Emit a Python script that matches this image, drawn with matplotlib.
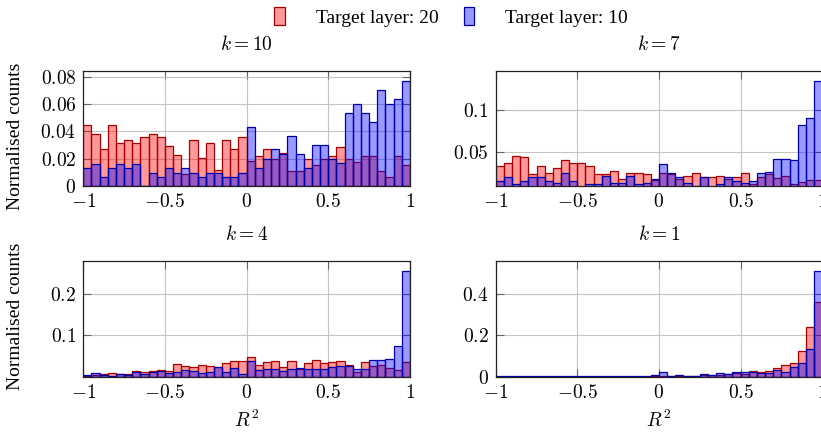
import numpy as np
import matplotlib
matplotlib.use("Agg")
import matplotlib.pyplot as plt
from matplotlib.patches import Patch

# -----------------------------
# Data (normalised counts, 40 bins on [-1, 1])
# -----------------------------

bin_edges = np.linspace(-1, 1, 41)

red_k10 = [0.0447, 0.0378, 0.0269, 0.0447, 0.0312, 0.0334, 0.0312, 0.0356, 0.0378, 0.0356,
           0.0290, 0.0224, 0.0090, 0.0334, 0.0203, 0.0312, 0.0115, 0.0334, 0.0269, 0.0356,
           0.0180, 0.0222, 0.0269, 0.0200, 0.0244, 0.0107, 0.0107, 0.0200, 0.0154, 0.0200,
           0.0222, 0.0288, 0.0200, 0.0178, 0.0222, 0.0222, 0.0110, 0.0063, 0.0222, 0.0154]
blue_k10 = [0.0129, 0.0164, 0.0063, 0.0129, 0.0164, 0.0129, 0.0164, 0.0000, 0.0098, 0.0063,
            0.0129, 0.0098, 0.0134, 0.0098, 0.0063, 0.0098, 0.0098, 0.0063, 0.0063, 0.0098,
            0.0434, 0.0134, 0.0200, 0.0269, 0.0232, 0.0366, 0.0232, 0.0134, 0.0298, 0.0298,
            0.0200, 0.0166, 0.0537, 0.0603, 0.0537, 0.0469, 0.0700, 0.0603, 0.0634, 0.0769]

red_k7 = [0.0332, 0.0368, 0.0452, 0.0440, 0.0232, 0.0332, 0.0248, 0.0300, 0.0404, 0.0368,
          0.0368, 0.0332, 0.0232, 0.0232, 0.0268, 0.0169, 0.0248, 0.0248, 0.0232, 0.0160,
          0.0240, 0.0230, 0.0176, 0.0212, 0.0248, 0.0200, 0.0200, 0.0212, 0.0176, 0.0200,
          0.0248, 0.0117, 0.0200, 0.0232, 0.0188, 0.0212, 0.0117, 0.0132, 0.0164, 0.0164]
blue_k7 = [0.0152, 0.0193, 0.0109, 0.0152, 0.0193, 0.0193, 0.0152, 0.0128, 0.0241, 0.0152,
           0.0080, 0.0109, 0.0109, 0.0212, 0.0128, 0.0128, 0.0212, 0.0109, 0.0128, 0.0176,
           0.0349, 0.0240, 0.0193, 0.0128, 0.0090, 0.0193, 0.0080, 0.0109, 0.0193, 0.0152,
           0.0128, 0.0152, 0.0240, 0.0261, 0.0416, 0.0416, 0.0397, 0.0817, 0.0908, 0.1350]

red_k4 = [0.0030, 0.0050, 0.0064, 0.0088, 0.0064, 0.0070, 0.0136, 0.0110, 0.0136, 0.0160,
          0.0136, 0.0304, 0.0256, 0.0224, 0.0280, 0.0264, 0.0240, 0.0320, 0.0384, 0.0368,
          0.0470, 0.0272, 0.0352, 0.0384, 0.0232, 0.0368, 0.0176, 0.0328, 0.0400, 0.0328,
          0.0352, 0.0368, 0.0288, 0.0112, 0.0352, 0.0256, 0.0280, 0.0208, 0.0152, 0.0352]
blue_k4 = [0.0050, 0.0088, 0.0050, 0.0030, 0.0064, 0.0050, 0.0110, 0.0064, 0.0110, 0.0136,
           0.0080, 0.0120, 0.0168, 0.0136, 0.0080, 0.0120, 0.0240, 0.0120, 0.0208, 0.0072,
           0.0384, 0.0160, 0.0176, 0.0184, 0.0136, 0.0176, 0.0208, 0.0176, 0.0184, 0.0184,
           0.0232, 0.0256, 0.0248, 0.0176, 0.0176, 0.0400, 0.0400, 0.0424, 0.0744, 0.2536]

red_k1 = [0.0010, 0.0010, 0.0010, 0.0010, 0.0010, 0.0010, 0.0010, 0.0010, 0.0010, 0.0010,
          0.0010, 0.0010, 0.0010, 0.0010, 0.0010, 0.0010, 0.0010, 0.0010, 0.0010, 0.0030,
          0.0050, 0.0020, 0.0050, 0.0020, 0.0020, 0.0080, 0.0064, 0.0096, 0.0144, 0.0176,
          0.0144, 0.0256, 0.0240, 0.0256, 0.0400, 0.0560, 0.0688, 0.1248, 0.2400, 0.3600]
blue_k1 = [0.0020, 0.0020, 0.0020, 0.0020, 0.0030, 0.0020, 0.0060, 0.0060, 0.0020, 0.0020,
           0.0020, 0.0060, 0.0020, 0.0060, 0.0020, 0.0020, 0.0050, 0.0020, 0.0040, 0.0064,
           0.0224, 0.0030, 0.0080, 0.0020, 0.0020, 0.0128, 0.0064, 0.0176, 0.0128, 0.0208,
           0.0208, 0.0224, 0.0160, 0.0192, 0.0320, 0.0224, 0.0480, 0.0656, 0.1344, 0.5090]

titles = ["$k = 10$", "$k = 7$", "$k = 4$", "$k = 1$"]
series_red = [red_k10, red_k7, red_k4, red_k1]
series_blue = [blue_k10, blue_k7, blue_k4, blue_k1]
y_limits = [(0, 0.0842), (0.0088, 0.147), (0, 0.279), (0, 0.559)]
y_ticks = [[0, 0.02, 0.04, 0.06, 0.08], [0.05, 0.1], [0.1, 0.2], [0, 0.2, 0.4]]
y_tick_labels = [["$0$", "$0.02$", "$0.04$", "$0.06$", "$0.08$"],
                 ["$0.05$", "$0.1$"],
                 ["$0.1$", "$0.2$"],
                 ["$0$", "$0.2$", "$0.4$"]]
x_ticks = [-1, -0.5, 0, 0.5, 1]
x_tick_labels = ["$-1$", "$-0.5$", "$0$", "$0.5$", "$1$"]

# -----------------------------
# Style
# -----------------------------

plt.rcParams["font.family"] = ["Liberation Serif", "DejaVu Serif"]
plt.rcParams["mathtext.fontset"] = "cm"
plt.rcParams["font.size"] = 14

W, H = 821, 434
fig = plt.figure(figsize=(W / 100, H / 100), dpi=100)

# axes boxes in pixels: left, right, top, bottom
boxes = [
    (83.3, 410.0, 71.0, 186.0),
    (495.7, 822.2, 71.0, 186.0),
    (83.3, 410.0, 260.7, 376.8),
    (495.7, 822.2, 260.7, 376.8),
]

red_fill = (1, 0, 0, 0.4)
blue_fill = (0, 0, 1, 0.4)
red_edge = "#a80000"
blue_edge = "#0000a8"

for i in range(4):
    l, r, t, b = boxes[i]
    ax = fig.add_axes([l / W, 1 - b / H, (r - l) / W, (b - t) / H])

    ax.bar(bin_edges[:-1], series_red[i], width=0.05, align="edge",
           color=red_fill, edgecolor=red_edge, linewidth=0.9, zorder=2)
    ax.bar(bin_edges[:-1], series_blue[i], width=0.05, align="edge",
           color=blue_fill, edgecolor=blue_edge, linewidth=0.9, zorder=3)

    ax.set_xlim(-1, 1)
    ax.set_ylim(*y_limits[i])
    ax.set_xticks(x_ticks)
    ax.set_xticklabels(x_tick_labels)
    ax.set_yticks(y_ticks[i])
    ax.set_yticklabels(y_tick_labels[i])

    ax.grid(True, color="#c4c4c4", linewidth=0.8, zorder=0)
    ax.set_axisbelow(True)
    ax.tick_params(direction="in", length=6, width=0.8, color="#666666",
                   top=True, right=True, pad=5)
    for s in ax.spines.values():
        s.set_linewidth(0.9)
        s.set_color("#222222")
        s.set_zorder(5)

    cx = (l + r) / 2
    fig.text(cx / W, 1 - (t - 26) / H, titles[i], ha="center", va="center")

# y labels
fig.text(16 / W, 1 - 136 / H, "Normalised counts", rotation=90, ha="center", va="center")
fig.text(16 / W, 1 - 316 / H, "Normalised counts", rotation=90, ha="center", va="center")

# x labels
fig.text(246.7 / W, 1 - 420 / H, "$R^2$", ha="center", va="center")
fig.text(659 / W, 1 - 420 / H, "$R^2$", ha="center", va="center")

# legend
handles = [
    Patch(facecolor=red_fill, edgecolor=red_edge, linewidth=0.9),
    Patch(facecolor=blue_fill, edgecolor=blue_edge, linewidth=0.9),
]
fig.legend(handles, ["Target layer: 20", "Target layer: 10"],
           loc="upper center", bbox_to_anchor=(451 / W, 1.025), ncol=2,
           frameon=False, handlelength=0.55, handleheight=1.1,
           handletextpad=1.6, columnspacing=1.3)

fig.savefig("out.png", dpi=100)
